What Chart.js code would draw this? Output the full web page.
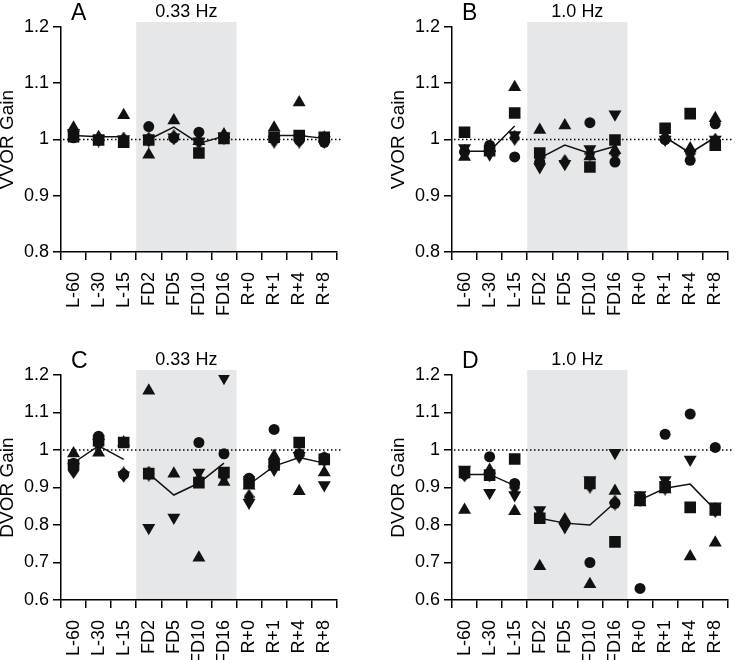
<!DOCTYPE html>
<html>
<head>
<meta charset="utf-8">
<script src="https://cdn.jsdelivr.net/npm/chart.js@4/dist/chart.umd.min.js"></script>
<style>
  html, body { margin: 0; padding: 0; background: #fff; overflow: hidden; }
  #wrap { position: relative; width: 735px; height: 660px; }
  canvas { position: absolute; }
</style>
</head>
<body>
<div id="wrap">
  <canvas id="panel-a" width="345" height="330" style="left:0;top:0"></canvas>
  <canvas id="panel-b" width="345" height="330" style="left:391px;top:0"></canvas>
  <canvas id="panel-c" width="345" height="312" style="left:0;top:348px"></canvas>
  <canvas id="panel-d" width="345" height="312" style="left:391px;top:348px"></canvas>
</div>
<script>
// categories along the x axis
const categories = ['L-60', 'L-30', 'L-15', 'FD2', 'FD5', 'FD10', 'FD16', 'R+0', 'R+1', 'R+4', 'R+8'];
const shadeFrom = 'FD2';
const shadeTo = 'FD16';
const vvorTicks = [0.8, 0.9, 1, 1.1, 1.2];
const dvorTicks = [0.6, 0.7, 0.8, 0.9, 1, 1.1, 1.2];

// A: VVOR gain, 0.33 Hz
const vvorSlowCircle  = [1.003, 1.000, 0.998, 1.023, 1.003, 1.013, 1.004, null, 1.002, 0.999, 0.995];
const vvorSlowSquare  = [1.005, 0.999, 0.995, 0.999, null,  0.976, 1.002, null, 1.004, 1.007, 1.004];
const vvorSlowTriUp   = [1.021, 1.004, 1.043, 0.973, 1.034, 0.997, 1.009, null, 1.021, 1.066, 1.003];
const vvorSlowTriDown = [1.012, 1.001, 1.001, 1.001, 1.004, 0.997, 1.006, null, 1.000, 1.002, 0.999];
const vvorSlowDiamond = [1.010, 1.000, 1.000, 1.000, 1.004, 0.996, 1.004, null, 0.998, 0.998, 0.998];
const vvorSlowMean    = [1.007, 1.005, 1.005, 1.000, 1.022, 0.993, 1.006, null, 1.007, 1.007, 1.002];

// B: VVOR gain, 1.0 Hz
const vvorFastCircle  = [0.978, 0.990, 0.969, 0.960, null,  1.030, 0.960, null, 1.000, 0.963, 1.028];
const vvorFastSquare  = [1.013, 0.980, 1.047, 0.976, null,  0.951, 0.999, null, 1.020, 1.046, 0.990];
const vvorFastTriUp   = [0.969, 0.985, 1.093, 1.017, 1.025, 0.970, 0.981, null, 1.005, 0.984, 1.038];
const vvorFastTriDown = [0.985, 0.974, 1.008, 0.951, 0.957, 0.983, 1.045, null, 1.000, 0.975, 1.000];
const vvorFastDiamond = [0.978, 0.985, 1.003, 0.960, 0.960, 0.975, 0.975, null, 1.003, 0.975, 0.998];
const vvorFastMean    = [0.979, 0.979, 1.024, 0.967, 0.990, 0.975, 0.988, null, 1.004, 0.976, 1.004];

// C: DVOR gain, 0.33 Hz
const dvorSlowCircle  = [0.965, 1.037, 0.935, 0.937, null,  1.020, 0.990, 0.925, 1.055, 0.990, 0.980];
const dvorSlowSquare  = [0.960, 1.025, 1.020, 0.937, null,  0.913, 0.940, 0.915, 0.960, 1.020, 0.975];
const dvorSlowTriUp   = [0.991, 0.993, 1.020, 1.158, 0.937, 0.713, 0.915, 0.905, 0.984, 0.890, 0.940];
const dvorSlowTriDown = [0.955, 1.020, 0.933, 0.793, 0.820, 0.940, 1.193, 0.860, 0.948, 0.985, 0.907];
const dvorSlowDiamond = [0.944, 1.015, 0.935, 0.937, null,  0.920, 0.930, 0.875, 0.966, 0.985, 0.975];
const dvorSlowMean    = [0.966, 1.011, 0.975, 0.937, 0.880, 0.912, 0.965, 0.908, 0.957, 0.980, 0.965];

// D: DVOR gain, 1.0 Hz
const dvorFastCircle  = [0.935, 0.982, 0.911, 0.820, 0.805, 0.700, 0.858, 0.631, 1.042, 1.096, 1.007];
const dvorFastSquare  = [0.940, 0.933, 0.976, 0.818, null,  0.911, 0.755, 0.867, 0.902, 0.847, 0.840];
const dvorFastTriUp   = [0.840, 0.947, 0.837, 0.690, 0.815, 0.642, 0.891, 0.860, 0.895, 0.716, 0.753];
const dvorFastTriDown = [0.948, 0.886, 0.880, 0.840, 0.795, 0.920, 0.993, 0.880, 0.920, 0.975, 0.850];
const dvorFastDiamond = [0.935, 0.935, 0.900, 0.825, 0.805, 0.905, 0.860, 0.870, 0.900, null,  0.840];
const dvorFastMean    = [0.935, 0.935, 0.905, 0.818, 0.805, 0.800, 0.860, 0.867, 0.898, 0.909, 0.840];

const FONT = "'Liberation Sans', Arial, Helvetica, sans-serif";
const INK = '#111';
const SHADE = '#e6e7e8';
const lineBreaks = [2, 6]; // no mean line between L-15/FD2 and FD16/R+0

function diamondMarker(w, h) {
  const c = document.createElement('canvas');
  c.width = w;
  c.height = h;
  const g = c.getContext('2d');
  g.fillStyle = INK;
  g.beginPath();
  g.moveTo(w / 2, 0);
  g.lineTo(w, h / 2);
  g.lineTo(w / 2, h);
  g.lineTo(0, h / 2);
  g.closePath();
  g.fill();
  return c;
}
const diamond = diamondMarker(11, 16);

// shading, dotted unity line and panel headings
const panelDecor = {
  id: 'panelDecor',
  beforeDraw(chart, args, opts) {
    const { ctx, chartArea, scales: { x } } = chart;
    const half = (x.getPixelForValue(1) - x.getPixelForValue(0)) / 2;
    const x0 = x.getPixelForValue(categories.indexOf(shadeFrom)) - half;
    const x1 = x.getPixelForValue(categories.indexOf(shadeTo)) + half;
    ctx.save();
    ctx.fillStyle = SHADE;
    ctx.fillRect(x0, chartArea.top - 5, x1 - x0, chartArea.bottom - chartArea.top + 5);
    ctx.fillStyle = '#000';
    ctx.textBaseline = 'alphabetic';
    ctx.textAlign = 'left';
    ctx.font = '23px ' + FONT;
    ctx.fillText(opts.letter, 71, 20);
    ctx.textAlign = 'center';
    ctx.font = '18px ' + FONT;
    ctx.fillText(opts.freq, (x0 + x1) / 2, 17);
    ctx.restore();
  },
  beforeDatasetsDraw(chart) {
    const { ctx, chartArea, scales: { y } } = chart;
    const py = y.getPixelForValue(1);
    ctx.save();
    ctx.strokeStyle = '#000';
    ctx.lineWidth = 1.5;
    ctx.setLineDash([1.5, 2.5]);
    ctx.beginPath();
    ctx.moveTo(chartArea.left + 2, py);
    ctx.lineTo(chartArea.right + 4, py);
    ctx.stroke();
    ctx.restore();
  }
};

function markers(data, style, radius, rotation) {
  return {
    data: data,
    showLine: false,
    pointStyle: style,
    pointRadius: radius,
    pointRotation: rotation || 0,
    pointBackgroundColor: INK,
    pointBorderColor: INK,
    pointBorderWidth: 0,
    pointHoverRadius: radius
  };
}

function makePanel(id, letter, freq, yLabel, ticks, s, xHeight) {
  return new Chart(document.getElementById(id), {
    type: 'line',
    data: {
      labels: categories,
      datasets: [
        markers(s.triUp, 'triangle', 7.5),
        markers(s.triDown, 'triangle', 7.5, 180),
        markers(s.circle, 'circle', 5.5),
        markers(s.square, 'rect', 8.2),
        markers(s.diamond, diamond, 8),
        {
          data: s.mean,
          borderColor: INK,
          borderWidth: 1.5,
          pointRadius: 0,
          spanGaps: false,
          segment: {
            borderColor: c => lineBreaks.includes(c.p0DataIndex) ? 'rgba(0,0,0,0)' : INK
          }
        }
      ]
    },
    options: {
      responsive: false,
      animation: false,
      events: [],
      layout: { padding: { top: 27, left: 0, right: 3, bottom: 0 } },
      plugins: {
        legend: { display: false },
        tooltip: { enabled: false },
        panelDecor: { letter: letter, freq: freq }
      },
      scales: {
        x: {
          type: 'category',
          offset: true,
          grid: { offset: true, drawOnChartArea: false, color: '#000', lineWidth: 1.5, tickLength: 8 },
          border: { color: '#000', width: 1.5 },
          ticks: {
            autoSkip: false, minRotation: 90, maxRotation: 90, padding: 12,
            color: '#000', font: { family: FONT, size: 18 }
          },
          afterFit: sc => {
            sc.height = xHeight;
            sc.paddingLeft = 0;
            sc.paddingRight = 0;
          }
        },
        y: {
          min: ticks[0],
          max: ticks[ticks.length - 1],
          afterBuildTicks: sc => { sc.ticks = ticks.map(v => ({ value: v })); },
          grid: { drawOnChartArea: false, color: '#000', lineWidth: 1.5, tickLength: 8 },
          border: { color: '#000', width: 1.5 },
          ticks: {
            padding: 4, color: '#000', font: { family: FONT, size: 18 },
            callback: v => String(+v.toFixed(1))
          },
          title: {
            display: true, text: yLabel, color: '#000',
            font: { family: FONT, size: 19, lineHeight: 0.8 },
            padding: { top: 0, bottom: 0 }
          },
          afterFit: sc => {
            sc.width = 61;
            sc.paddingTop = 0;
            sc.paddingBottom = 0;
          }
        }
      }
    },
    plugins: [panelDecor]
  });
}

makePanel('panel-a', 'A', '0.33 Hz', 'VVOR Gain', vvorTicks, {
  circle: vvorSlowCircle, square: vvorSlowSquare, triUp: vvorSlowTriUp,
  triDown: vvorSlowTriDown, diamond: vvorSlowDiamond, mean: vvorSlowMean
}, 78);
makePanel('panel-b', 'B', '1.0 Hz', 'VVOR Gain', vvorTicks, {
  circle: vvorFastCircle, square: vvorFastSquare, triUp: vvorFastTriUp,
  triDown: vvorFastTriDown, diamond: vvorFastDiamond, mean: vvorFastMean
}, 78);
makePanel('panel-c', 'C', '0.33 Hz', 'DVOR Gain', dvorTicks, {
  circle: dvorSlowCircle, square: dvorSlowSquare, triUp: dvorSlowTriUp,
  triDown: dvorSlowTriDown, diamond: dvorSlowDiamond, mean: dvorSlowMean
}, 60);
makePanel('panel-d', 'D', '1.0 Hz', 'DVOR Gain', dvorTicks, {
  circle: dvorFastCircle, square: dvorFastSquare, triUp: dvorFastTriUp,
  triDown: dvorFastTriDown, diamond: dvorFastDiamond, mean: dvorFastMean
}, 60);
</script>
</body>
</html>
